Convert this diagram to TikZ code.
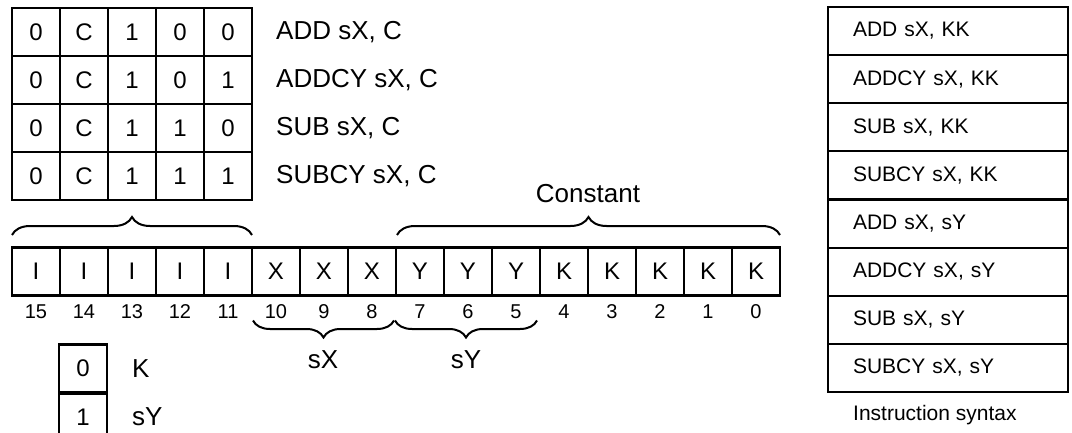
\documentclass[tikz,border=0pt]{standalone}
\usepackage{fontspec}
\setmainfont{Liberation Sans}
\usetikzlibrary{decorations.pathreplacing}
\begin{document}
\begin{tikzpicture}[x=1pt,y=1pt,
  cell/.style={draw, line width=2.2pt, minimum width=48pt, minimum height=48pt,
    inner sep=0pt, outer sep=0pt, font=\fontsize{24}{24}\selectfont},
  lab/.style={anchor=west, inner sep=0pt, font=\fontsize{26}{26}\selectfont},
  num/.style={inner sep=0pt, font=\fontsize{20}{20}\selectfont},
  row/.style={draw, line width=2.2pt, minimum width=240pt, minimum height=48.125pt,
    text width=190pt, align=left, inner xsep=25pt, inner ysep=0pt, outer sep=0pt,
    font=\fontsize{21}{21}\selectfont},
  br/.style={decorate, line width=2pt, decoration={brace, amplitude=#1}}
]
\useasboundingbox (0,0) rectangle (1072,432);

% top opcode grid
\foreach \r/\a/\b/\op in {0/0/0/{ADD sX, C},1/0/1/{ADDCY sX, C},2/1/0/{SUB sX, C},3/1/1/{SUBCY sX, C}}{
  \foreach \c/\t in {0/0,1/C,2/1,3/\a,4/\b}
    \node[cell] (g\r\c) at (36+48*\c, 400-48*\r) {\t};
  \node[lab] (op\r) at (276, 400-48*\r) {\op};
}

% instruction word
\foreach \i/\t in {15/I,14/I,13/I,12/I,11/I,10/X,9/X,8/X,7/Y,6/Y,5/Y,4/K,3/K,2/K,1/K,0/K}{
  \node[cell] (b\i) at (36+48*15-48*\i, 160.5) {\t};
  \node[num] (n\i) at (36+48*15-48*\i, 120) {\i};
}

% braces
\draw[br=18pt] ([yshift=12.5pt]b15.north west) -- ([yshift=12.5pt]b11.north east);
\draw[br=18pt] ([xshift=1pt,yshift=12.5pt]b7.north west) -- ([yshift=12.5pt]b0.north east);
\node[inner sep=0pt, font=\fontsize{26}{26}\selectfont] (const) at (588,238) {Constant};
\draw[br=17pt] ([xshift=-2pt,yshift=-25pt]b8.south east) -- ([xshift=1pt,yshift=-25pt]b10.south west);
\draw[br=17pt] ([xshift=-3pt,yshift=-25pt]b5.south east) -- ([xshift=-1pt,yshift=-25pt]b7.south west);
\node[inner sep=0pt, font=\fontsize{26}{26}\selectfont] (sx) at (323,72) {sX};
\node[inner sep=0pt, font=\fontsize{26}{26}\selectfont] (sy) at (466,72) {sY};

% legend
\node[cell] (l0) at (83,63.5) {0};
\node[cell] (l1) at (83,14.5) {1};
\node[lab] (lk) at (132,63.5) {K};
\node[lab] (ly) at (132,15.5) {sY};

% syntax table
\foreach \k/\s in {0/{ADD sX, KK},1/{ADDCY sX, KK},2/{SUB sX, KK},3/{SUBCY sX, KK},
                   4/{ADD sX, sY},5/{ADDCY sX, sY},6/{SUB sX, sY},7/{SUBCY sX, sY}}
  \node[row] (t\k) at (948, 425-24.0625-48.125*\k) {\s};
\node[anchor=west, inner sep=0pt, font=\fontsize{21}{21}\selectfont] (cap) at (853,17) {Instruction syntax};
\end{tikzpicture}
\end{document}
